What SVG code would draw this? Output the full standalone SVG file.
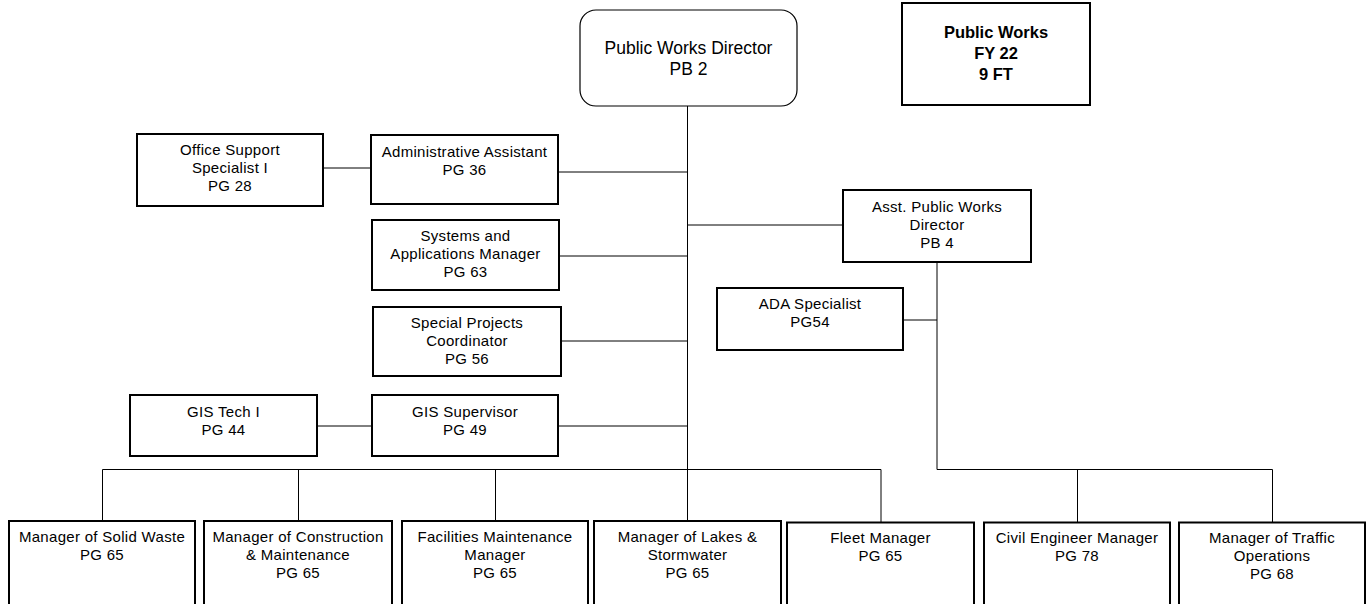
<svg xmlns="http://www.w3.org/2000/svg" width="1366" height="604" viewBox="0 0 1366 604">
<style>
.box{fill:#fff;stroke:#000;stroke-width:2}
.dir{fill:#fff;stroke:#000;stroke-width:1.2}
.t{font-family:"Liberation Sans",Arial,sans-serif;font-size:15px;letter-spacing:0.3px;fill:#000;text-anchor:middle}
.td{font-family:"Liberation Sans",Arial,sans-serif;font-size:17.5px;fill:#000;text-anchor:middle}
.tb{font-family:"Liberation Sans",Arial,sans-serif;font-size:16.5px;font-weight:bold;fill:#000;text-anchor:middle}
.c{fill:none;stroke:#000;stroke-width:1}
</style>
<rect width="1366" height="604" fill="#fff"/>
<g id="connectors">
<path class="c" d="M687.5 106V521"/>
<path class="c" d="M323 168H371"/>
<path class="c" d="M558 172H687.5"/>
<path class="c" d="M559 256H687.5"/>
<path class="c" d="M561 341H687.5"/>
<path class="c" d="M687.5 225H843"/>
<path class="c" d="M317 426H372"/>
<path class="c" d="M558 426H687.5"/>
<path class="c" d="M903 320H937"/>
<path class="c" d="M937 262V469.5H1272.5V522.5"/>
<path class="c" d="M1077.5 469.5V522.5"/>
<path class="c" d="M102.5 521V469.5H881V522.5"/>
<path class="c" d="M298.5 469.5V521"/>
<path class="c" d="M495.5 469.5V521"/>
</g>
<g id="director">
<rect class="dir" x="580" y="10" width="217" height="96" rx="16"/>
<text class="td" x="688.5" y="54">Public Works Director</text>
<text class="td" x="688.5" y="75">PB 2</text>
</g>
<g id="summary">
<rect class="box" x="902" y="3" width="188" height="102"/>
<text class="tb" x="996" y="38">Public Works</text>
<text class="tb" x="996" y="59">FY 22</text>
<text class="tb" x="996" y="80">9 FT</text>
</g>
<g id="office-support">
<rect class="box" x="137" y="134" width="186" height="72"/>
<text class="t" x="230" y="155">Office Support</text>
<text class="t" x="230" y="173">Specialist I</text>
<text class="t" x="230" y="191">PG 28</text>
</g>
<g id="admin-assistant">
<rect class="box" x="371" y="135" width="187" height="69"/>
<text class="t" x="464.5" y="157">Administrative Assistant</text>
<text class="t" x="464.5" y="175">PG 36</text>
</g>
<g id="systems-manager">
<rect class="box" x="372" y="220" width="187" height="70"/>
<text class="t" x="465.5" y="241">Systems and</text>
<text class="t" x="465.5" y="259">Applications Manager</text>
<text class="t" x="465.5" y="277">PG 63</text>
</g>
<g id="special-projects">
<rect class="box" x="373" y="307" width="188" height="69"/>
<text class="t" x="467" y="328">Special Projects</text>
<text class="t" x="467" y="346">Coordinator</text>
<text class="t" x="467" y="364">PG 56</text>
</g>
<g id="asst-director">
<rect class="box" x="843" y="190" width="188" height="72"/>
<text class="t" x="937" y="212">Asst. Public Works</text>
<text class="t" x="937" y="230">Director</text>
<text class="t" x="937" y="248">PB 4</text>
</g>
<g id="ada-specialist">
<rect class="box" x="717" y="288" width="186" height="62"/>
<text class="t" x="810" y="309">ADA Specialist</text>
<text class="t" x="810" y="327">PG54</text>
</g>
<g id="gis-tech">
<rect class="box" x="130" y="395" width="187" height="61"/>
<text class="t" x="223.5" y="417">GIS Tech I</text>
<text class="t" x="223.5" y="435">PG 44</text>
</g>
<g id="gis-supervisor">
<rect class="box" x="372" y="395" width="186" height="61"/>
<text class="t" x="465" y="417">GIS Supervisor</text>
<text class="t" x="465" y="435">PG 49</text>
</g>
<g id="solid-waste">
<rect class="box" x="9" y="521" width="186" height="90"/>
<text class="t" x="102" y="542">Manager of Solid Waste</text>
<text class="t" x="102" y="560">PG 65</text>
</g>
<g id="construction">
<rect class="box" x="204" y="521" width="188" height="90"/>
<text class="t" x="298" y="542">Manager of Construction</text>
<text class="t" x="298" y="560">&amp; Maintenance</text>
<text class="t" x="298" y="578">PG 65</text>
</g>
<g id="facilities">
<rect class="box" x="402" y="521" width="186" height="90"/>
<text class="t" x="495" y="542">Facilities Maintenance</text>
<text class="t" x="495" y="560">Manager</text>
<text class="t" x="495" y="578">PG 65</text>
</g>
<g id="lakes">
<rect class="box" x="594" y="521" width="187" height="90"/>
<text class="t" x="687.5" y="542">Manager of Lakes &amp;</text>
<text class="t" x="687.5" y="560">Stormwater</text>
<text class="t" x="687.5" y="578">PG 65</text>
</g>
<g id="fleet">
<rect class="box" x="787" y="522.5" width="187" height="90"/>
<text class="t" x="880.5" y="543">Fleet Manager</text>
<text class="t" x="880.5" y="561">PG 65</text>
</g>
<g id="civil-engineer">
<rect class="box" x="984" y="522.5" width="186" height="90"/>
<text class="t" x="1077" y="543">Civil Engineer Manager</text>
<text class="t" x="1077" y="561">PG 78</text>
</g>
<g id="traffic">
<rect class="box" x="1179" y="522.5" width="186" height="90"/>
<text class="t" x="1272" y="543">Manager of Traffic</text>
<text class="t" x="1272" y="561">Operations</text>
<text class="t" x="1272" y="579">PG 68</text>
</g>
</svg>
